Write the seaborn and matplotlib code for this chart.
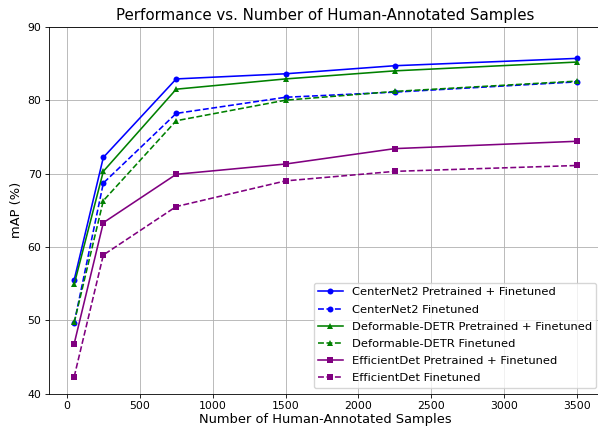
import numpy as np
import pandas as pd
import matplotlib
matplotlib.use("Agg")
import matplotlib.pyplot as plt
import seaborn as sns

samples = [50, 250, 750, 1500, 2250, 3500]

centernet2_pre = [55.5, 72.2, 82.9, 83.6, 84.7, 85.7]
centernet2_ft = [49.6, 68.7, 78.2, 80.4, 81.1, 82.5]
detr_pre = [54.9, 70.3, 81.5, 82.9, 84.0, 85.2]
detr_ft = [49.7, 66.3, 77.2, 80.0, 81.2, 82.6]
effdet_pre = [46.8, 63.3, 69.9, 71.3, 73.4, 74.4]
effdet_ft = [42.3, 58.9, 65.5, 69.0, 70.3, 71.1]

series = [
    ("CenterNet2 Pretrained + Finetuned", centernet2_pre, "blue", "-", "o"),
    ("CenterNet2 Finetuned", centernet2_ft, "blue", "--", "o"),
    ("Deformable-DETR Pretrained + Finetuned", detr_pre, "green", "-", "^"),
    ("Deformable-DETR Finetuned", detr_ft, "green", "--", "^"),
    ("EfficientDet Pretrained + Finetuned", effdet_pre, "purple", "-", "s"),
    ("EfficientDet Finetuned", effdet_ft, "purple", "--", "s"),
]

fig, ax = plt.subplots(figsize=(5.98, 4.26), dpi=100)
fig.subplots_adjust(left=0.082, right=1.007, top=0.937, bottom=0.076)

for name, vals, col, ls, mk in series:
    sns.lineplot(x=samples, y=vals, color=col, linestyle=ls, marker=mk,
                 markersize=4.3, markeredgewidth=0, linewidth=1.15, label=name, ax=ax)

ax.set_title("Performance vs. Number of Human-Annotated Samples", fontsize=10.8, pad=4.6)
ax.set_xlabel("Number of Human-Annotated Samples", fontsize=9.4, labelpad=1.2)
ax.set_ylabel("mAP (%)", fontsize=9.4, labelpad=3)
ax.set_ylim(40, 90)
ax.tick_params(labelsize=7.8, length=2.7, width=0.6, pad=2.7)
for s in ax.spines.values():
    s.set_linewidth(0.6)
ax.grid(True, linewidth=0.6)
ax.legend(loc="lower right", fontsize=8.27, labelspacing=0.62, handlelength=2.1)

plt.savefig("out.png", dpi=100)
